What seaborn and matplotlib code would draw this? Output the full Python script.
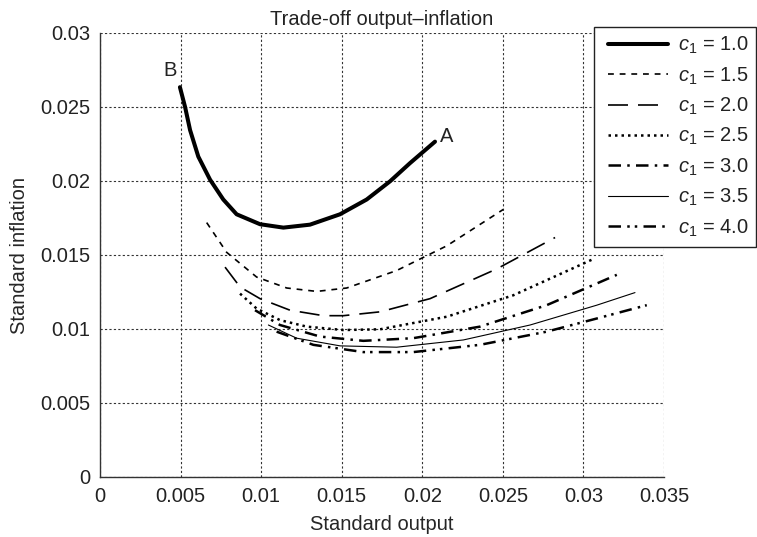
import matplotlib
matplotlib.use("Agg")
import matplotlib.pyplot as plt
import seaborn as sns
import pandas as pd

# ---- data ----
x_c10 = [0.00496, 0.00528, 0.00559, 0.0061, 0.00683, 0.00765, 0.00848, 0.00993, 0.01138,
         0.01303, 0.01489, 0.01655, 0.018, 0.01924, 0.02079]
y_c10 = [0.02634, 0.0250, 0.02344, 0.02165, 0.02009, 0.01875, 0.01775, 0.01708, 0.01685,
         0.01705, 0.01775, 0.01875, 0.01998, 0.02121, 0.02266]

x_c15 = [0.00662, 0.00786, 0.00972, 0.01159, 0.01345, 0.01531, 0.01841, 0.02152, 0.02503]
y_c15 = [0.01719, 0.01518, 0.01351, 0.01277, 0.01254, 0.01277, 0.01395, 0.01562, 0.01808]

x_c20 = [0.00776, 0.00869, 0.00993, 0.01179, 0.01386, 0.0151, 0.01738, 0.02048, 0.02462, 0.02824]
y_c20 = [0.01418, 0.01284, 0.01205, 0.01127, 0.0109, 0.0109, 0.01116, 0.01205, 0.01406, 0.01618]

x_c25 = [0.00869, 0.00972, 0.01117, 0.01283, 0.0151, 0.01738, 0.02152, 0.02565, 0.03062]
y_c25 = [0.01239, 0.01138, 0.0106, 0.01016, 0.00993, 0.00998, 0.01083, 0.01228, 0.01473]

x_c30 = [0.00962, 0.01117, 0.01365, 0.01634, 0.01944, 0.02358, 0.02772, 0.03207]
y_c30 = [0.01127, 0.01027, 0.00949, 0.0092, 0.00938, 0.01016, 0.01161, 0.01366]

x_c35 = [0.01045, 0.0122, 0.0149, 0.01841, 0.02255, 0.02669, 0.03083, 0.0332]
y_c35 = [0.01027, 0.00938, 0.00886, 0.00877, 0.00926, 0.01027, 0.01161, 0.01246]

x_c40 = [0.01096, 0.01324, 0.01634, 0.01944, 0.02358, 0.02772, 0.03083, 0.03393]
y_c40 = [0.00982, 0.00893, 0.00844, 0.00844, 0.00893, 0.00982, 0.01071, 0.01161]

labels = ["1.0", "1.5", "2.0", "2.5", "3.0", "3.5", "4.0"]
xs = [x_c10, x_c15, x_c20, x_c25, x_c30, x_c35, x_c40]
ys = [y_c10, y_c15, y_c20, y_c25, y_c30, y_c35, y_c40]

x_ticks = [0, 0.005, 0.01, 0.015, 0.02, 0.025, 0.03, 0.035]
x_tick_labels = ["0", "0.005", "0.01", "0.015", "0.02", "0.025", "0.03", "0.035"]
y_ticks = [0, 0.005, 0.01, 0.015, 0.02, 0.025, 0.03]
y_tick_labels = ["0", "0.005", "0.01", "0.015", "0.02", "0.025", "0.03"]

# ---- styling ----
sns.set_style("white")
plt.rcParams["font.family"] = ["Liberation Sans", "DejaVu Sans"]
plt.rcParams["mathtext.fontset"] = "custom"
plt.rcParams["mathtext.rm"] = "Liberation Sans"
plt.rcParams["mathtext.it"] = "Liberation Sans:italic"
plt.rcParams["text.color"] = "#222222"

styles = [
    dict(linewidth=2.9, linestyle="-"),
    dict(linewidth=1.2, linestyle=(0, (3.5, 3.5))),
    dict(linewidth=1.2, linestyle=(0, (12, 6))),
    dict(linewidth=1.8, linestyle=(0, (1, 1.6))),
    dict(linewidth=1.8, linestyle=(0, (5, 2.5, 1, 2.5))),
    dict(linewidth=0.8, linestyle="-"),
    dict(linewidth=1.8, linestyle=(0, (5, 2.5, 1, 2.0, 1, 2.5))),
]

fig = plt.figure(figsize=(7.57, 5.37), dpi=100)
ax = fig.add_axes([100 / 757, 1 - 477 / 537, 564 / 757, 444 / 537])

for lab, x, y, st in zip(labels, xs, ys, styles):
    df = pd.DataFrame({"x": x, "y": y})
    sns.lineplot(data=df, x="x", y="y", ax=ax, sort=False, estimator=None,
                 color="black", label=r"$c_1$ = " + lab, **st)

ax.set_xlim(0, 0.035)
ax.set_ylim(0, 0.03)
ax.set_xticks(x_ticks)
ax.set_xticklabels(x_tick_labels)
ax.set_yticks(y_ticks)
ax.set_yticklabels(y_tick_labels)

ax.grid(True, color="#333333", linestyle=(0, (2, 2)), linewidth=0.8)
for s in ["top", "right"]:
    ax.spines[s].set_visible(False)
for s in ["left", "bottom"]:
    ax.spines[s].set_color("#333333")
    ax.spines[s].set_linewidth(1.0)
ax.tick_params(direction="in", length=4, width=0.8, colors="#333333",
               labelsize=14.5, labelcolor="#222222", pad=7)

ax.set_xlabel("Standard output", fontsize=14.5, labelpad=7)
ax.set_ylabel("Standard inflation", fontsize=14.5, labelpad=8)
ax.set_title("Trade-off output\u2013inflation", fontsize=14.5, pad=6)

ax.text(0.00434, 0.02746, "B", fontsize=14.5, ha="center", va="center")
ax.text(0.02151, 0.02299, "A", fontsize=14.5, ha="center", va="center")

leg = ax.legend(loc="upper left", bbox_to_anchor=(594 / 757, 1 - 27 / 537),
                bbox_transform=fig.transFigure, frameon=True, fancybox=False,
                framealpha=1, edgecolor="#222222", fontsize=14.5, numpoints=2,
                handlelength=3.55, handletextpad=0.2, labelspacing=0.45,
                borderpad=0.4, borderaxespad=0)
leg.get_frame().set_linewidth(1.0)

fig.savefig("out.png", dpi=100)
